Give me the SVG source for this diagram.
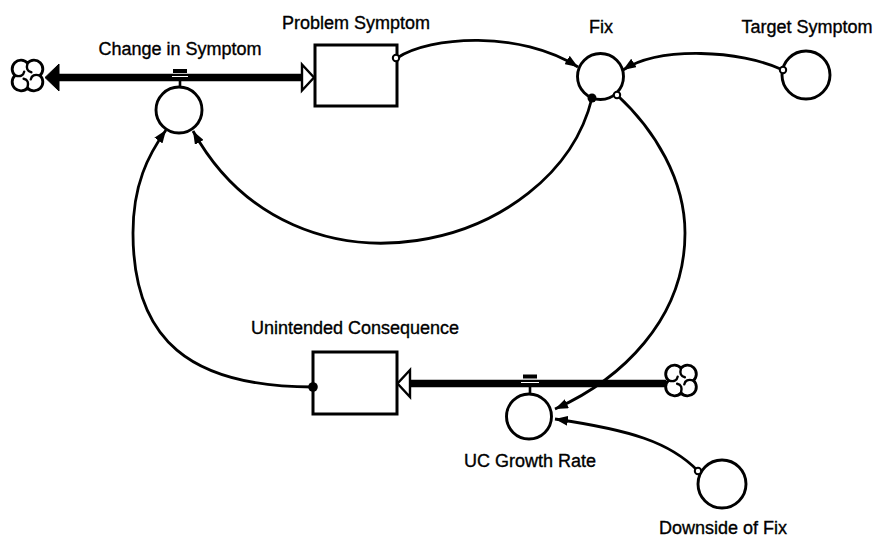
<svg xmlns="http://www.w3.org/2000/svg" xmlns:xlink="http://www.w3.org/1999/xlink" width="876" height="537" viewBox="0 0 876 537">
<style>
.lbl{font-family:"Liberation Sans",Arial,sans-serif;font-size:18px;text-anchor:middle;fill:#000;stroke:#000;stroke-width:0.35}
.aux{fill:#fff;stroke:#000;stroke-width:2.9}
.stock{fill:#fff;stroke:#000;stroke-width:3}
.conn{fill:none;stroke:#000;stroke-width:2.8}
.pipe{fill:none;stroke:#000;stroke-width:7.5}
.hollow{fill:#fff;stroke:#000;stroke-width:2.4;stroke-linejoin:miter}
.solid{fill:#000;stroke:#000;stroke-width:1}
.odot{fill:#fff;stroke:#000;stroke-width:2}
.fdot{fill:#000}
.cloud{fill:#fff;stroke:#000;stroke-width:2.6;stroke-linecap:round}
.swirl{fill:none;stroke:#000;stroke-width:2.2;stroke-linecap:round}
</style>
<defs>
<marker id="arr" markerUnits="userSpaceOnUse" markerWidth="13" markerHeight="10" refX="13" refY="5" orient="auto" viewBox="0 0 13 10">
<path d="M0,0 L13,5 L0,10 Z" fill="#000"/>
</marker>
<g id="cloudShape">
<path class="cloud" d="M0,-11.3 A8,8 0 1 1 11.3,0 A8,8 0 1 1 0,11.3 A8,8 0 1 1 -11.3,0 A8,8 0 1 1 0,-11.3 Z"/>
<path class="swirl" d="M0,-11.3 Q-2,-4 3.5,-3 M11.3,0 Q4,-2 3,3.5 M0,11.3 Q2,4 -3.5,3 M-11.3,0 Q-4,2 -3,-3.5"/>
</g>
</defs>

<g id="connectors">
<!-- flow: Change in Symptom -->
<line class="pipe" x1="58" y1="77.5" x2="303" y2="77.5"/>
<polygon class="solid" points="45,77.5 59,64 59,91"/>
<polygon class="hollow" points="302,64.5 314,77.5 302,90.5"/>
<line x1="172" y1="76.5" x2="188" y2="76.5" stroke="#fff" stroke-width="1"/>
<!-- flow: UC Growth Rate -->
<line class="pipe" x1="409" y1="383.5" x2="666" y2="383.5"/>
<polygon class="hollow" points="410,370 397.5,383.5 410,397"/>
<line x1="521" y1="382.5" x2="539" y2="382.5" stroke="#fff" stroke-width="1"/>
<!-- information links -->
<path class="conn" d="M397,58 C430,36 520,30 578,67" marker-end="url(#arr)"/>
<path class="conn" d="M783,70 C740,50 660,46 623,70" marker-end="url(#arr)"/>
<path class="conn" d="M592,98 C555,250 295,315 193,131" marker-end="url(#arr)"/>
<path class="conn" d="M313,387 C190,387 133,340 133,233 C133,185 148,155 166,130" marker-end="url(#arr)"/>
<path class="conn" d="M617,95 C655,130 685,180 685,233 C685,320 620,380 555,409" marker-end="url(#arr)"/>
<path class="conn" d="M698,471 C670,442 630,430 555,419" marker-end="url(#arr)"/>
</g>

<g id="cloud-sink">
<use xlink:href="#cloudShape" href="#cloudShape" transform="translate(27.5,75.5) scale(1.1)"/>
</g>
<g id="cloud-source">
<use xlink:href="#cloudShape" href="#cloudShape" transform="translate(681,380.5) scale(1.1)"/>
</g>

<g id="change-in-symptom">
<rect x="173" y="69" width="14" height="4" fill="#000"/>
<line x1="180" y1="81" x2="180" y2="88" stroke="#000" stroke-width="2.6"/>
<circle class="aux" cx="179" cy="110" r="23"/>
<text class="lbl" x="180" y="55">Change in Symptom</text>
</g>

<g id="problem-symptom">
<rect class="stock" x="315" y="45" width="82" height="61"/>
<text class="lbl" x="356" y="29">Problem Symptom</text>
<circle class="odot" cx="396" cy="58" r="3.2"/>
</g>

<g id="fix">
<circle class="aux" cx="600.5" cy="76.5" r="23"/>
<text class="lbl" x="601" y="33">Fix</text>
<circle class="fdot" cx="592" cy="98" r="4.5"/>
<circle class="odot" cx="617" cy="95" r="3.2"/>
</g>

<g id="target-symptom">
<circle class="aux" cx="806" cy="75" r="24"/>
<text class="lbl" x="807" y="33">Target Symptom</text>
<circle class="odot" cx="783" cy="70" r="3.2"/>
</g>

<g id="unintended-consequence">
<rect class="stock" x="313" y="352" width="84" height="62"/>
<text class="lbl" x="355" y="334">Unintended Consequence</text>
<circle class="fdot" cx="313" cy="387" r="4.8"/>
</g>

<g id="uc-growth-rate">
<rect x="523" y="374.5" width="14" height="4" fill="#000"/>
<line x1="530" y1="387" x2="530" y2="395" stroke="#000" stroke-width="2.6"/>
<circle class="aux" cx="529" cy="416.5" r="22.5"/>
<text class="lbl" x="530" y="467">UC Growth Rate</text>
</g>

<g id="downside-of-fix">
<circle class="aux" cx="722" cy="484" r="24"/>
<text class="lbl" x="723" y="534">Downside of Fix</text>
<circle class="odot" cx="698" cy="471" r="3.2"/>
</g>
</svg>
